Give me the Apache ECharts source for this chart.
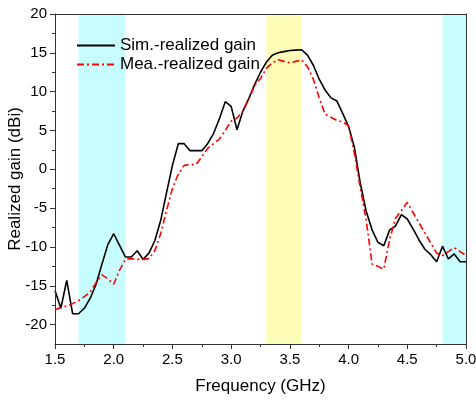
<!DOCTYPE html>
<html>
<head>
<meta charset="utf-8">
<script src="https://cdn.jsdelivr.net/npm/echarts@6/dist/echarts.min.js"></script>
<style>html,body{margin:0;padding:0;background:#fff}#c{width:476px;height:400px}</style>
</head>
<body>
<div id="c"></div>
<script>
// Frequency (GHz)
const freq = [1.50,1.55,1.60,1.65,1.70,1.75,1.80,1.85,1.90,1.95,2.00,2.05,2.10,2.15,2.20,2.25,2.30,2.35,2.40,2.45,
  2.50,2.55,2.60,2.65,2.70,2.75,2.80,2.85,2.90,2.95,3.00,3.05,3.10,3.15,3.20,3.25,3.30,3.35,3.40,3.45,
  3.50,3.55,3.60,3.65,3.70,3.75,3.80,3.85,3.90,3.95,4.00,4.05,4.10,4.15,4.20,4.25,4.30,4.35,4.40,4.45,
  4.50,4.55,4.60,4.65,4.70,4.75,4.80,4.85,4.90,4.95,5.00];
// Simulated realized gain (dBi)
const simGain = [-15.6,-17.9,-14.3,-18.6,-18.6,-17.9,-16.6,-14.8,-12.2,-9.7,-8.3,-9.8,-11.3,-11.3,-10.5,-11.6,-10.8,-9.2,-6.6,-3.0,
  0.5,3.3,3.3,2.4,2.4,2.4,3.3,4.6,6.5,8.7,8.1,5.1,7.5,9.1,10.9,12.5,13.8,14.7,15.0,15.15,
  15.3,15.35,15.4,14.7,13.4,11.6,10.2,9.2,8.8,7.2,5.5,2.8,-1.8,-5.4,-7.8,-9.4,-9.85,-7.8,-7.3,-5.85,
  -6.4,-7.7,-9.1,-10.3,-11.0,-11.9,-9.9,-11.55,-10.9,-11.9,-11.9];
// Measured realized gain (dBi)
const meaGain = [-18.1,-17.8,-17.6,-17.3,-16.9,-16.4,-15.8,-14.6,-13.6,-14.1,-14.8,-13.0,-11.6,-11.5,-11.6,-11.6,-11.5,-10.5,-8.3,-5.3,
  -2.5,-0.6,0.5,0.6,0.6,1.6,2.7,3.3,3.9,5.0,6.2,6.6,7.5,9.0,10.8,11.7,13.0,13.7,14.1,13.9,
  13.7,13.9,14.1,13.2,11.6,9.2,7.1,6.7,6.3,6.1,5.6,2.0,-2.4,-6.5,-12.2,-12.5,-12.85,-9.0,-6.3,-5.3,
  -4.25,-5.6,-6.9,-8.2,-9.5,-10.8,-11.1,-10.6,-10.1,-10.6,-11.1];
// Highlighted bands (GHz)
const cyanBands = [[1.7, 2.1], [4.8, 5.0]];
const yellowBands = [[3.3, 3.6]];
// Tick labels
const yMajor = [-20,-15,-10,-5,0,5,10,15,20];
const yMinor = [-17.5,-12.5,-7.5,-2.5,2.5,7.5,12.5,17.5];

const chart = echarts.init(document.getElementById('c'));
const FONT = 'Liberation Sans, Arial, sans-serif';
const sim = freq.map((f,i)=>[f, simGain[i]]);
const mea = freq.map((f,i)=>[f, meaGain[i]]);
const bandData = cyanBands.map(b=>[{xAxis:b[0], itemStyle:{color:'#c8fdfd'}},{xAxis:b[1]}])
  .concat(yellowBands.map(b=>[{xAxis:b[0], itemStyle:{color:'#fdfdb8'}},{xAxis:b[1]}]));

const axisLineStyle = {color:'#333', width:1};
chart.setOption({
  animation:false,
  backgroundColor:'#fff',
  grid:{left:55, right:10, top:14, bottom:56, outerBoundsMode:'none', containLabel:false},
  legend:{
    orient:'vertical', left:71, top:32, itemWidth:38, itemHeight:14, itemGap:2,
    textStyle:{fontFamily:FONT, fontSize:17, color:'#000'},
    itemStyle:{opacity:0},
    data:['Sim.-realized gain','Mea.-realized gain']
  },
  xAxis:[{
    type:'value', min:1.5, max:5.0, interval:0.5, z:10,
    name:'Frequency (GHz)', nameLocation:'middle', nameGap:34, nameMoveOverlap:false,
    nameTextStyle:{fontFamily:FONT, fontSize:17, color:'#000'},
    axisLine:{show:true, onZero:false, lineStyle:axisLineStyle},
    axisTick:{show:true, inside:false, length:5, lineStyle:axisLineStyle},
    minorTick:{show:true, splitNumber:2, length:3, lineStyle:axisLineStyle},
    axisLabel:{fontFamily:FONT, fontSize:15, color:'#000', margin:8, formatter:v=>v.toFixed(1)},
    splitLine:{show:false}
  },{
    type:'value', position:'top', min:1.5, max:5.0, z:10,
    axisLine:{show:true, onZero:false, lineStyle:axisLineStyle},
    axisTick:{show:false}, axisLabel:{show:false}, splitLine:{show:false}
  }],
  yAxis:[{
    type:'value', min:-22.5, max:20, z:10,
    name:'Realized gain (dBi)', nameLocation:'middle', nameGap:31, nameMoveOverlap:false,
    nameTextStyle:{fontFamily:FONT, fontSize:17, color:'#000'},
    axisLine:{show:true, onZero:false, lineStyle:axisLineStyle},
    axisTick:{show:true, length:5, customValues:yMajor, lineStyle:axisLineStyle},
    axisLabel:{fontFamily:FONT, fontSize:15, color:'#000', margin:8, customValues:yMajor},
    splitLine:{show:false}
  },{
    type:'value', position:'left', min:-22.5, max:20, z:10,
    axisLine:{show:false},
    axisTick:{show:true, length:3, customValues:yMinor, lineStyle:axisLineStyle},
    axisLabel:{show:false}, splitLine:{show:false}
  },{
    type:'value', position:'right', min:-22.5, max:20, z:10,
    axisLine:{show:true, onZero:false, lineStyle:axisLineStyle},
    axisTick:{show:false}, axisLabel:{show:false}, splitLine:{show:false}
  }],
  series:[{
    name:'bands', type:'line', data:[], silent:true,
    markArea:{silent:true, data:bandData}
  },{
    name:'Sim.-realized gain', type:'line', data:sim, symbol:'none', z:3,
    lineStyle:{color:'#000', width:1.6}, itemStyle:{color:'#000'}
  },{
    name:'Mea.-realized gain', type:'line', data:mea, symbol:'none', z:4,
    lineStyle:{color:'#f00', width:1.6, type:[7,3,2,3]}, itemStyle:{color:'#f00'}
  }]
});
</script>
</body>
</html>
